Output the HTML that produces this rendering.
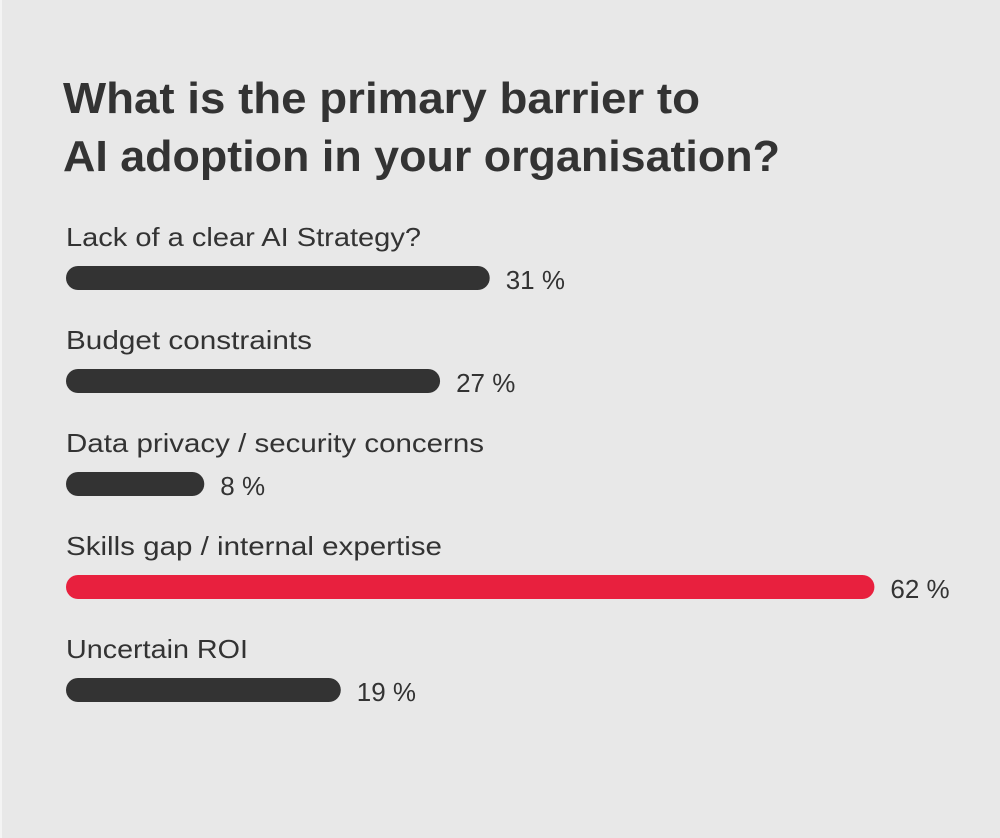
<!DOCTYPE html>
<html><head><meta charset="utf-8"><style>
html,body{margin:0;padding:0;background:#e8e8e8;}
svg{display:block;font-family:"Liberation Sans",sans-serif;}
</style></head><body>
<svg id="chart" width="1000" height="838" viewBox="0 0 1000 838" xmlns="http://www.w3.org/2000/svg">
<rect x="0" y="0" width="1000" height="838" fill="#e8e8e8"/>
<rect x="0" y="0" width="2" height="838" fill="#f4f4f4"/>
<text x="63" y="113" font-size="44" font-weight="bold" fill="#333" textLength="637" lengthAdjust="spacingAndGlyphs">What is the primary barrier to</text>
<text x="63" y="171" font-size="44" font-weight="bold" fill="#333" textLength="717" lengthAdjust="spacingAndGlyphs">AI adoption in your organisation?</text>
<g id="bars"></g>
</svg>
<script>
const categories = ["Lack of a clear AI Strategy?", "Budget constraints", "Data privacy / security concerns", "Skills gap / internal expertise", "Uncertain ROI"];
const values = [31, 27, 8, 62, 19];
const highlight = [false, false, false, true, false];
const labelWidths = [355, 246, 418, 376, 182];

const x0 = 66;
function xScale(v){ return 39 + 12.41 * v; }
function rowY(i){ return 266 + i * 103; }

const g = document.getElementById('bars');
const NS = 'http://www.w3.org/2000/svg';
categories.forEach((c, i) => {
  const y = rowY(i);
  const lab = document.createElementNS(NS, 'text');
  
  
  lab.setAttribute('x', x0);
  lab.setAttribute('y', y - 20);
  lab.setAttribute('font-size', '26');
  lab.setAttribute('fill', '#333');
  lab.setAttribute('textLength', labelWidths[i]);
  lab.setAttribute('lengthAdjust', 'spacingAndGlyphs');
  lab.textContent = c;
  g.appendChild(lab);

  const w = xScale(values[i]);
  const bar = document.createElementNS(NS, 'rect');
  
  
  bar.setAttribute('x', x0);
  bar.setAttribute('y', y);
  bar.setAttribute('width', w);
  bar.setAttribute('height', 24);
  bar.setAttribute('rx', 12);
  bar.setAttribute('fill', highlight[i] ? '#e8203e' : '#333333');
  g.appendChild(bar);

  const val = document.createElementNS(NS, 'text');
  
  
  val.setAttribute('x', x0 + w + 16);
  val.setAttribute('y', y + 23);
  val.setAttribute('font-size', '26');
  val.setAttribute('fill', '#333');
  val.textContent = values[i] + ' %';
  g.appendChild(val);
});
</script>
</body></html>
